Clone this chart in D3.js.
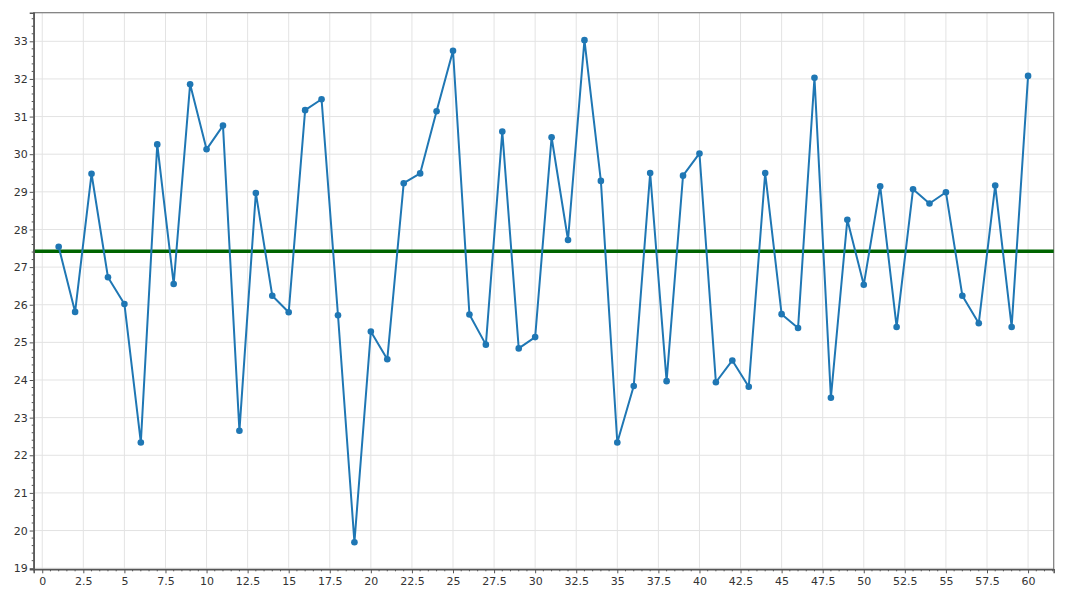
<!DOCTYPE html>
<html>
<head>
<meta charset="utf-8">
<script src="https://cdn.jsdelivr.net/npm/d3@7"></script>
<style>
html, body { margin: 0; padding: 0; background: #fff; }
svg { display: block; font-family: "DejaVu Sans", sans-serif; }
</style>
</head>
<body>
<svg id="chart" width="1066" height="600"></svg>
<script>
const xValues = d3.range(1, 61);
const yValues = [
  27.54, 25.81, 29.48, 26.73, 26.02, 22.34, 30.26, 26.55, 31.86, 30.13,
  30.76, 22.65, 28.97, 26.24, 25.80, 31.17, 31.46, 25.72, 19.69, 25.29,
  24.55, 29.23, 29.49, 31.14, 32.75, 25.74, 24.94, 30.60, 24.84, 25.14,
  30.45, 27.72, 33.03, 29.29, 22.34, 23.84, 29.50, 23.97, 29.43, 30.02,
  23.94, 24.52, 23.82, 29.50, 25.75, 25.38, 32.03, 23.53, 28.26, 26.53,
  29.15, 25.41, 29.07, 28.69, 28.99, 26.24, 25.51, 29.17, 25.41, 32.08
];
const xTickValues = [0, 2.5, 5, 7.5, 10, 12.5, 15, 17.5, 20, 22.5, 25, 27.5, 30, 32.5, 35, 37.5, 40, 42.5, 45, 47.5, 50, 52.5, 55, 57.5, 60];
const yTickValues = [19, 20, 21, 22, 23, 24, 25, 26, 27, 28, 29, 30, 31, 32, 33];
const meanValue = d3.mean(yValues);

const W = 1066, H = 600;
const margin = { left: 33.7, top: 12.7, right: 12.3, bottom: 30.7 };
const iw = W - margin.left - margin.right;
const ih = H - margin.top - margin.bottom;

const svg = d3.select("#chart");
const g = svg.append("g").attr("transform", `translate(${margin.left},${margin.top})`);

const x = d3.scaleLinear().domain([-0.52, 61.56]).range([0, iw]);
const y = d3.scaleLinear().domain([18.97, 33.76]).range([ih, 0]);

// grid
g.append("g").selectAll("line").data(xTickValues).join("line")
  .attr("x1", d => x(d)).attr("x2", d => x(d))
  .attr("y1", 0).attr("y2", ih)
  .attr("stroke", "#e3e3e3").attr("stroke-width", 1);
g.append("g").selectAll("line").data(yTickValues).join("line")
  .attr("y1", d => y(d)).attr("y2", d => y(d))
  .attr("x1", 0).attr("x2", iw)
  .attr("stroke", "#e3e3e3").attr("stroke-width", 1);

// frame (top / right)
g.append("rect").attr("x", 0).attr("y", 0).attr("width", iw).attr("height", ih)
  .attr("fill", "none").attr("stroke", "#7a7a7a").attr("stroke-width", 1.2);

// mean line
g.append("line")
  .attr("x1", 0).attr("x2", iw)
  .attr("y1", y(meanValue)).attr("y2", y(meanValue))
  .attr("stroke", "#006400").attr("stroke-width", 3.5);

// data line
const line = d3.line().x((d, i) => x(xValues[i])).y(d => y(d));
g.append("path").datum(yValues)
  .attr("d", line)
  .attr("fill", "none")
  .attr("stroke", "#1f77b4")
  .attr("stroke-width", 2)
  .attr("stroke-linejoin", "round");

g.append("g").selectAll("circle").data(yValues).join("circle")
  .attr("cx", (d, i) => x(xValues[i]))
  .attr("cy", d => y(d))
  .attr("r", 3.3)
  .attr("fill", "#1f77b4");

// minor ticks
const xMinor = d3.range(-0.5, 61.5 + 1e-9, 0.5).filter(v => Math.abs(v / 2.5 - Math.round(v / 2.5)) > 1e-6);
const yMinor = d3.range(19, 33.8, 0.2).map(v => Math.round(v * 10) / 10).filter(v => Math.abs(v - Math.round(v)) > 1e-6);

const xAxisG = g.append("g").attr("transform", `translate(0,${ih})`);
xAxisG.selectAll("line.minor").data(xMinor).join("line")
  .attr("class", "minor")
  .attr("x1", d => x(d)).attr("x2", d => x(d))
  .attr("y1", 0).attr("y2", 2).attr("stroke", "#555").attr("stroke-width", 1);
const xAxis = d3.axisBottom(x).tickValues(xTickValues).tickFormat(d => String(d)).tickSize(4).tickPadding(4);
xAxisG.call(xAxis);
xAxisG.select(".domain").attr("stroke", "#555").attr("stroke-width", 1.5);
xAxisG.selectAll(".tick line").attr("stroke", "#555");
xAxisG.selectAll(".tick text").attr("fill", "#333").style("font-size", "11px").style("font-family", "DejaVu Sans, sans-serif");

const yAxisG = g.append("g");
yAxisG.selectAll("line.minor").data(yMinor).join("line")
  .attr("class", "minor")
  .attr("y1", d => y(d)).attr("y2", d => y(d))
  .attr("x1", 0).attr("x2", -2).attr("stroke", "#555").attr("stroke-width", 1);
const yAxis = d3.axisLeft(y).tickValues(yTickValues).tickFormat(d => String(d)).tickSize(4).tickPadding(2);
yAxisG.call(yAxis);
yAxisG.select(".domain").attr("stroke", "#555").attr("stroke-width", 1.5);
yAxisG.selectAll(".tick line").attr("stroke", "#555");
yAxisG.selectAll(".tick text").attr("fill", "#333").style("font-size", "11px").style("font-family", "DejaVu Sans, sans-serif");
</script>
</body>
</html>
